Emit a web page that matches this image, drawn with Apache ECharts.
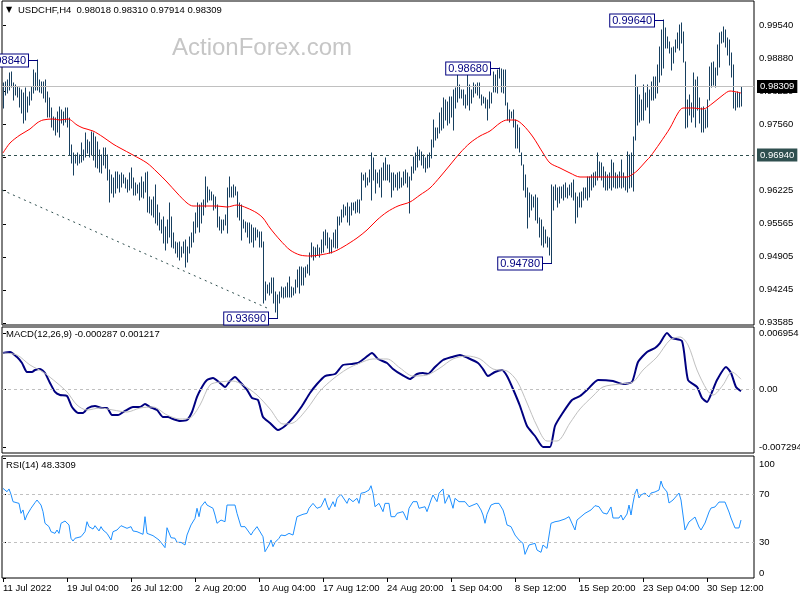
<!DOCTYPE html>
<html><head><meta charset="utf-8">
<script src="https://cdn.jsdelivr.net/npm/echarts@6/dist/echarts.min.js"></script>
<style>html,body{margin:0;padding:0;background:#fff}#c{width:800px;height:600px}</style>
</head><body><div id="c"></div>
<script>
// ---------- DATA ----------
const symbolTitle = 'USDCHF,H4';
const lastBar = ['0.98018', '0.98310', '0.97914', '0.98309'];   // O H L C
const macdTitle = 'MACD(12,26,9) -0.000287 0.001217';
const rsiTitle = 'RSI(14) 48.3309';

// H4 bar highs / lows, bar 0 = 11 Jul 20:00
const highs = [
0.9838,0.9840,0.9844,0.9858,0.9860,0.9838,0.9834,0.9830,0.9828,0.9824,
0.9818,0.9828,0.9810,0.9820,0.9830,0.9864,0.9858,0.9884,0.9844,0.9840,
0.9840,0.9844,0.9820,0.9808,0.9788,0.9770,0.9768,0.9780,0.9790,0.9784,
0.9780,0.9788,0.9788,0.9768,0.9714,0.9698,0.9694,0.9698,0.9694,0.9718,
0.9704,0.9738,0.9724,0.9720,0.9740,0.9738,0.9730,0.9720,0.9704,0.9694,
0.9708,0.9708,0.9694,0.9664,0.9654,0.9648,0.9660,0.9660,0.9654,0.9658,
0.9654,0.9648,0.9644,0.9658,0.9668,0.9648,0.9638,0.9634,0.9638,0.9650,
0.9640,0.9658,0.9660,0.9610,0.9604,0.9610,0.9634,0.9594,0.9578,0.9564,
0.9570,0.9550,0.9564,0.9598,0.9570,0.9538,0.9520,0.9518,0.9520,0.9510,
0.9520,0.9524,0.9510,0.9530,0.9538,0.9560,0.9578,0.9598,0.9594,0.9598,
0.9604,0.9650,0.9630,0.9624,0.9620,0.9614,0.9610,0.9594,0.9570,0.9564,
0.9564,0.9574,0.9628,0.9650,0.9630,0.9634,0.9630,0.9620,0.9598,0.9594,
0.9564,0.9560,0.9558,0.9558,0.9554,0.9548,0.9548,0.9544,0.9540,0.9540,
0.9520,0.9440,0.9434,0.9438,0.9448,0.9448,0.9420,0.9414,0.9420,0.9430,
0.9428,0.9430,0.9438,0.9450,0.9430,0.9428,0.9444,0.9464,0.9470,0.9470,
0.9468,0.9470,0.9474,0.9498,0.9518,0.9510,0.9508,0.9514,0.9508,0.9524,
0.9540,0.9544,0.9538,0.9528,0.9524,0.9538,0.9544,0.9570,0.9570,0.9584,
0.9594,0.9590,0.9598,0.9590,0.9598,0.9598,0.9600,0.9604,0.9604,0.9658,
0.9654,0.9658,0.9648,0.9664,0.9698,0.9688,0.9664,0.9658,0.9664,0.9668,
0.9678,0.9688,0.9674,0.9674,0.9658,0.9658,0.9654,0.9658,0.9660,0.9648,
0.9660,0.9664,0.9658,0.9650,0.9670,0.9690,0.9698,0.9710,0.9704,0.9700,
0.9694,0.9688,0.9694,0.9698,0.9724,0.9764,0.9748,0.9748,0.9778,0.9788,
0.9808,0.9804,0.9800,0.9810,0.9810,0.9824,0.9828,0.9858,0.9834,0.9824,
0.9824,0.9814,0.9860,0.9834,0.9824,0.9838,0.9834,0.9838,0.9838,0.9814,
0.9810,0.9808,0.9804,0.9820,0.9818,0.9860,0.9854,0.9864,0.9868,0.9866,
0.9864,0.9864,0.9798,0.9784,0.9780,0.9784,0.9764,0.9754,0.9748,0.9698,
0.9674,0.9654,0.9628,0.9618,0.9614,0.9610,0.9614,0.9608,0.9568,0.9564,
0.9550,0.9544,0.9530,0.9528,0.9634,0.9630,0.9634,0.9628,0.9630,0.9630,
0.9634,0.9638,0.9628,0.9634,0.9638,0.9644,0.9618,0.9610,0.9618,0.9620,
0.9628,0.9628,0.9650,0.9650,0.9654,0.9658,0.9660,0.9698,0.9680,0.9678,
0.9670,0.9660,0.9654,0.9658,0.9684,0.9678,0.9658,0.9654,0.9660,0.9684,
0.9658,0.9650,0.9700,0.9694,0.9698,0.9730,0.9854,0.9830,0.9814,0.9804,
0.9834,0.9818,0.9834,0.9824,0.9840,0.9850,0.9850,0.9874,0.9910,0.9944,
0.9964,0.9948,0.9930,0.9920,0.9908,0.9910,0.9924,0.9938,0.9954,0.9958,
0.9940,0.9880,0.9804,0.9814,0.9798,0.9858,0.9844,0.9850,0.9808,0.9788,
0.9790,0.9784,0.9804,0.9870,0.9878,0.9880,0.9868,0.9914,0.9938,0.9940,
0.9950,0.9944,0.9928,0.9924,0.9898,0.9874,0.9818,0.9820,0.9818,0.9831
];
const lows = [
0.9788,0.9814,0.9818,0.9824,0.9830,0.9804,0.9814,0.9810,0.9790,0.9778,
0.9758,0.9764,0.9780,0.9794,0.9804,0.9818,0.9824,0.9824,0.9820,0.9818,
0.9808,0.9800,0.9770,0.9770,0.9750,0.9744,0.9734,0.9740,0.9730,0.9758,
0.9754,0.9760,0.9750,0.9694,0.9678,0.9654,0.9678,0.9674,0.9678,0.9680,
0.9684,0.9690,0.9698,0.9690,0.9694,0.9684,0.9670,0.9668,0.9660,0.9658,
0.9674,0.9668,0.9644,0.9600,0.9618,0.9610,0.9618,0.9628,0.9620,0.9630,
0.9638,0.9628,0.9620,0.9624,0.9628,0.9614,0.9614,0.9618,0.9604,0.9610,
0.9608,0.9620,0.9580,0.9578,0.9574,0.9570,0.9558,0.9554,0.9544,0.9538,
0.9518,0.9504,0.9518,0.9530,0.9510,0.9508,0.9498,0.9490,0.9484,0.9490,
0.9498,0.9470,0.9480,0.9498,0.9510,0.9520,0.9538,0.9550,0.9540,0.9558,
0.9574,0.9590,0.9600,0.9604,0.9604,0.9584,0.9588,0.9550,0.9544,0.9538,
0.9544,0.9554,0.9538,0.9610,0.9610,0.9610,0.9614,0.9570,0.9564,0.9524,
0.9548,0.9540,0.9530,0.9518,0.9520,0.9510,0.9524,0.9530,0.9510,0.9510,
0.9398,0.9404,0.9418,0.9414,0.9418,0.9398,0.9380,0.9369,0.9398,0.9410,
0.9408,0.9410,0.9410,0.9410,0.9410,0.9414,0.9418,0.9430,0.9418,0.9434,
0.9434,0.9450,0.9458,0.9454,0.9490,0.9484,0.9490,0.9494,0.9490,0.9498,
0.9500,0.9514,0.9508,0.9498,0.9498,0.9510,0.9508,0.9508,0.9554,0.9560,
0.9570,0.9574,0.9560,0.9554,0.9574,0.9584,0.9578,0.9580,0.9578,0.9604,
0.9644,0.9630,0.9634,0.9640,0.9604,0.9644,0.9618,0.9638,0.9630,0.9610,
0.9644,0.9644,0.9644,0.9640,0.9610,0.9624,0.9630,0.9624,0.9628,0.9630,
0.9634,0.9638,0.9630,0.9578,0.9644,0.9658,0.9664,0.9670,0.9684,0.9674,
0.9668,0.9660,0.9668,0.9670,0.9688,0.9710,0.9724,0.9728,0.9738,0.9744,
0.9748,0.9764,0.9754,0.9758,0.9770,0.9744,0.9788,0.9800,0.9808,0.9808,
0.9794,0.9788,0.9794,0.9784,0.9798,0.9810,0.9818,0.9814,0.9808,0.9794,
0.9798,0.9788,0.9764,0.9788,0.9798,0.9820,0.9820,0.9818,0.9848,0.9820,
0.9818,0.9794,0.9764,0.9760,0.9768,0.9750,0.9708,0.9708,0.9700,0.9674,
0.9624,0.9610,0.9548,0.9570,0.9584,0.9590,0.9564,0.9558,0.9530,0.9514,
0.9510,0.9518,0.9510,0.9494,0.9478,0.9584,0.9604,0.9590,0.9598,0.9608,
0.9604,0.9610,0.9608,0.9614,0.9610,0.9604,0.9558,0.9570,0.9590,0.9590,
0.9604,0.9608,0.9604,0.9610,0.9624,0.9630,0.9634,0.9644,0.9650,0.9644,
0.9630,0.9624,0.9624,0.9628,0.9624,0.9630,0.9628,0.9628,0.9630,0.9628,
0.9630,0.9624,0.9620,0.9628,0.9630,0.9622,0.9724,0.9754,0.9760,0.9764,
0.9764,0.9784,0.9790,0.9758,0.9804,0.9804,0.9808,0.9818,0.9840,0.9854,
0.9868,0.9908,0.9908,0.9898,0.9864,0.9878,0.9900,0.9908,0.9904,0.9918,
0.9880,0.9748,0.9750,0.9774,0.9760,0.9770,0.9750,0.9784,0.9758,0.9740,
0.9740,0.9748,0.9750,0.9804,0.9830,0.9834,0.9830,0.9854,0.9870,0.9918,
0.9920,0.9910,0.9894,0.9874,0.9850,0.9788,0.9784,0.9790,0.9790,0.97914
];

// moving average (red), [bar index, price]
const maLine = [[0,0.9698],[3.5,0.9718],[8.5,0.9734],[13.5,0.9746],[17,0.9758],[20,0.9764],[25,0.9766],[28.5,0.9764],[32.5,0.9766],[37,0.9754],[40,0.9748],[45,0.9742],[50,0.9730],[55,0.9716],[58.5,0.9708],[65,0.9694],[72,0.9678],[77,0.9660],[82,0.9640],[87,0.9618],[92,0.9598],[95,0.9592],[102,0.9592],[107,0.9592],[112,0.9590],[117,0.9594],[122,0.9588],[127,0.9578],[130,0.9568],[133.5,0.9548],[138.5,0.9524],[143.5,0.9504],[148.5,0.9494],[153.5,0.9492],[158.5,0.9494],[165,0.9500],[170,0.9510],[177,0.9528],[182,0.9544],[187,0.9564],[192,0.9580],[197.5,0.9592],[203.5,0.9600],[208.5,0.9614],[213.5,0.9628],[218.5,0.9650],[223.5,0.9674],[228.5,0.9698],[233.5,0.9718],[238.5,0.9732],[243.5,0.9742],[248.5,0.9758],[252,0.9764],[256,0.9764],[260,0.9754],[265,0.9730],[270,0.9698],[273.5,0.9678],[278.5,0.9668],[283.5,0.9658],[288.5,0.9650],[293.5,0.9650],[298.5,0.9650],[303.5,0.9650],[312,0.9650],[315,0.9656],[317.5,0.9664],[322,0.9684],[323.5,0.9690],[328.5,0.9718],[333.5,0.9748],[337.5,0.9778],[340,0.9788],[345,0.9788],[350,0.9786],[355,0.9798],[360,0.9814],[363.5,0.9822],[369,0.9818]];

// dotted trend line
const trendLine = [[-0.5,0.9624],[132,0.9388]];

// horizontal levels
const bidPrice = 0.98309;
const levelPrice = 0.96940;

// high / low annotations
const notes = [[17,0.98840],[137,0.93690],[248,0.98680],[274,0.94780],[330,0.99640]];

// MACD main and signal, [bar index, value]
const macdMain = [[0,0.00447],[3.5,0.00460],[7,0.00397],[9.5,0.00323],[12,0.00211],[14.5,0.00211],[16,0.00236],[18.5,0.00248],[21,0.00199],[23.5,0.00075],[26,-0.00037],[28.5,-0.00075],[32,-0.00087],[34.5,-0.00224],[37.5,-0.00298],[40,-0.00298],[42.5,-0.00236],[46,-0.00211],[49.5,-0.00236],[52,-0.00236],[54.5,-0.00323],[57.5,-0.00323],[61,-0.00273],[65,-0.00224],[68.5,-0.00224],[71,-0.00186],[73.5,-0.00224],[77,-0.00261],[80,-0.00348],[82.5,-0.00348],[85,-0.00373],[88.5,-0.00397],[92,-0.00385],[94.5,-0.00286],[97,-0.00099],[99.5,0.00025],[102,0.00112],[105,0.00137],[108.5,0.00075],[111,0.00025],[113.5,0.00099],[116,0.00149],[118.5,0.00087],[122,-0.00012],[124.5,-0.00112],[127.5,-0.00137],[130,-0.00348],[133.5,-0.00422],[137.5,-0.00509],[141,-0.00460],[145,-0.00360],[149.5,-0.00211],[153.5,-0.00050],[157,0.00062],[161,0.00161],[166,0.00186],[170,0.00298],[174.5,0.00311],[177.5,0.00323],[181,0.00385],[184.5,0.00447],[187.5,0.00373],[192,0.00323],[195,0.00248],[199.5,0.00174],[203.5,0.00124],[207,0.00186],[210,0.00199],[212.5,0.00186],[216,0.00273],[220,0.00360],[224.5,0.00397],[228.5,0.00422],[232.5,0.00385],[237.5,0.00323],[240,0.00248],[242.5,0.00161],[246,0.00211],[249.5,0.00236],[252,0.00161],[255,0],[258.5,-0.00211],[262,-0.00460],[266,-0.00584],[270,-0.00720],[273.5,-0.00720],[276,-0.00460],[279.5,-0.00311],[284.5,-0.00137],[288.5,-0.00087],[292.5,0],[297.5,0.00112],[305,0.00099],[310,0.00062],[314.5,0.00087],[317.5,0.00335],[322,0.00460],[326,0.00509],[328.5,0.00571],[332,0.00695],[334.5,0.00633],[339.5,0.00596],[342.5,0.00112],[347,0.00025],[349.5,-0.00112],[352,-0.00161],[354.5,-0.00037],[357,0.00112],[361.5,0.00273],[364,0.00199],[366.5,0.00025],[369,-0.000287]];
const macdSignal = [[0,0.00447],[7,0.00422],[13.5,0.00298],[20,0.00211],[27,0.00075],[32,-0.00037],[37,-0.00199],[42,-0.00261],[48.5,-0.00236],[55,-0.00261],[62,-0.00286],[68.5,-0.00236],[75,-0.00224],[82,-0.00323],[88.5,-0.00373],[93.5,-0.00360],[98.5,-0.00199],[103.5,0.00050],[108.5,0.00087],[115,0.00099],[120,0.00050],[127,-0.00075],[133.5,-0.00248],[140,-0.00435],[145,-0.00422],[152,-0.00248],[158.5,-0.00025],[165,0.00124],[172,0.00248],[178.5,0.00323],[185,0.00373],[192,0.00373],[198.5,0.00261],[205,0.00161],[212,0.00174],[218.5,0.00261],[225,0.00373],[232,0.00410],[238.5,0.00373],[245,0.00248],[252,0.00224],[257,0.00099],[262,-0.00174],[267,-0.00460],[272,-0.00646],[277,-0.00646],[283.5,-0.00422],[288.5,-0.00248],[295,-0.00087],[300,0.00025],[308.5,0.00062],[315,0.00087],[320,0.00236],[327,0.00397],[333.5,0.00609],[338.5,0.00646],[342.5,0.00547],[347,0.00236],[352,-0.00012],[355,-0.00075],[360,0.00050],[364.5,0.00211],[369,0.001217]];

// RSI(14), [bar index, value]
const rsiLine = [[0,74.7],[2,71.9],[3,74.2],[4,69.7],[5,63.6],[6,65.0],[8,62.2],[9,53.9],[10,56.7],[11,48.3],[12,52.5],[14,58.1],[16,62.8],[17,65.0],[19,60.8],[20,55.3],[21,45.6],[23,42.8],[24,38.6],[26,37.2],[27,40.0],[28,37.2],[29,45.6],[30,44.2],[31,47.5],[32,48.3],[33,44.2],[34,33.1],[35,30.8],[36,33.1],[39,34.4],[41,38.6],[42,46.9],[43,42.8],[44,44.2],[45,40.8],[46,43.6],[48,39.2],[49,42.8],[50,40.0],[52,37.2],[54,31.7],[55,38.6],[57,40.0],[59,43.6],[62,41.4],[64,42.8],[65,39.2],[67,38.6],[70,36.4],[71,51.1],[72,37.2],[75,35.3],[78,31.7],[80,27.5],[81,25.3],[82,41.9],[84,33.6],[86,33.1],[87,29.7],[89,29.7],[91,27.5],[92,35.8],[94,44.2],[96,49.7],[97,58.1],[98,51.1],[99,59.4],[100,60.8],[101,63.6],[102,60.8],[103,59.4],[105,58.1],[106,52.5],[107,45.6],[108,44.7],[109,48.3],[111,46.9],[112,60.8],[114,60.8],[116,60.8],[117,53.9],[118,48.3],[119,42.8],[121,42.8],[122,41.4],[124,35.8],[125,38.6],[127,42.8],[128,41.4],[130,34.4],[131,21.9],[132,24.7],[133,27.5],[134,31.7],[135,26.1],[136,29.7],[138,33.1],[139,35.8],[141,35.3],[143,37.2],[145,35.8],[147,51.1],[148,51.1],[150,53.1],[152,53.9],[153,58.1],[155,62.2],[156,63.1],[157,58.1],[159,59.4],[161,66.4],[162,60.8],[163,56.7],[165,63.6],[166,59.4],[167,66.4],[169,69.7],[170,69.7],[172,62.2],[173,66.4],[175,63.6],[177,66.4],[178,62.2],[179,70.6],[181,71.4],[183,73.3],[184,76.9],[185,70.6],[186,59.4],[188,62.2],[190,55.3],[191,62.2],[193,62.2],[194,51.1],[196,51.1],[197,53.9],[198,52.5],[200,55.3],[202,48.3],[203,58.1],[205,63.6],[207,63.6],[208,58.1],[209,56.7],[211,59.4],[212,55.3],[214,65.0],[215,69.2],[217,63.6],[218,70.6],[219,72.5],[220,74.2],[221,62.2],[223,69.2],[224,67.8],[225,58.1],[226,66.4],[228,63.6],[229,62.2],[231,63.6],[233,59.4],[235,60.8],[237,62.2],[239,56.7],[240,52.5],[241,45.6],[242,53.1],[244,60.8],[246,62.2],[247,60.8],[248,62.2],[250,56.7],[251,51.1],[252,44.2],[254,42.8],[256,35.8],[258,31.7],[260,28.9],[261,19.7],[263,27.5],[264,28.1],[266,28.9],[267,23.3],[269,21.4],[270,27.5],[272,24.7],[273,26.1],[274,45.6],[276,46.9],[278,47.5],[281,49.2],[283,51.1],[284,51.9],[286,40.0],[287,48.3],[288,48.3],[289,51.1],[291,53.9],[292,55.3],[294,56.7],[296,60.3],[298,59.4],[299,56.7],[300,54.2],[302,53.3],[304,59.2],[305,50.0],[308,50.0],[309,52.5],[310,48.3],[312,53.3],[313,60.8],[314,52.5],[315,62.5],[316,70.8],[317,74.2],[318,66.7],[319,69.2],[321,70.8],[323,67.5],[324,70.8],[326,71.7],[328,73.3],[329,80.8],[330,75.8],[332,71.7],[333,62.5],[335,65.0],[338,70.8],[339,65.0],[341,40.0],[342,40.0],[343,46.7],[346,50.8],[348,42.5],[349,40.0],[351,45.8],[353,55.0],[354,58.3],[356,59.2],[358,63.3],[361,63.3],[363,55.0],[364,50.0],[366,41.7],[368,41.7],[369,48.3]];
const rsiLevels = [70, 30];

// axis ticks
const priceTicks = [0.99540,0.98880,0.98220,0.97560,0.96900,0.96225,0.95565,0.94905,0.94245,0.93585];
const macdTicks = [0.006954, 0, -0.007294];
const rsiTicks = [100, 70, 30, 0];
const xTickIdx = [0,32,64,96,128,160,192,224,256,288,320,352];
const xLabels = ['11 Jul 2022','19 Jul 04:00','26 Jul 12:00','2 Aug 20:00','10 Aug 04:00','17 Aug 12:00','24 Aug 20:00','1 Sep 04:00','8 Sep 12:00','15 Sep 20:00','23 Sep 04:00','30 Sep 12:00'];

// ---------- CHART ----------
const FONT = '"Liberation Sans", Arial, sans-serif';
const FS = 9.5;
const BAR = '#173f5f', NAVY = '#000080';
const X_MIN = -0.5, X_MAX = 375.5;
const chart = echarts.init(document.getElementById('c'), null, {renderer: 'canvas'});

function hiddenX(g) {
  return {type: 'value', gridIndex: g, min: X_MIN, max: X_MAX, show: false, splitLine: {show: false}};
}
function yAx(g, min, max, ticks, fmt, extra) {
  return Object.assign({
    type: 'value', gridIndex: g, position: 'right', min: min, max: max,
    axisLine: {show: false}, splitLine: {show: false},
    axisTick: {show: true, customValues: ticks, length: 3, lineStyle: {color: '#000'}},
    axisLabel: {customValues: ticks, formatter: fmt, color: '#000', fontSize: FS, fontFamily: FONT, margin: 5}
  }, extra || {});
}
const gridBase = {left: 2, right: 46, show: true, borderColor: '#000', borderWidth: 1, backgroundColor: 'transparent', containLabel: false, outerBoundsMode: 'none'};

const option = {
  animation: false,
  backgroundColor: '#fff',
  grid: [
    Object.assign({top: 1, height: 324}, gridBase),
    Object.assign({top: 327, height: 126}, gridBase),
    Object.assign({top: 456, height: 122}, gridBase)
  ],
  xAxis: [
    hiddenX(0), hiddenX(1),
    {type: 'value', gridIndex: 2, min: X_MIN, max: X_MAX,
     axisLine: {show: false}, splitLine: {show: false},
     axisTick: {show: true, customValues: xTickIdx, length: 4, lineStyle: {color: '#000'}},
     axisLabel: {customValues: xTickIdx, formatter: v => xLabels[xTickIdx.indexOf(v)] || '', align: 'left', margin: 5,
                 color: '#000', fontSize: FS, fontFamily: FONT}}
  ],
  yAxis: [
    yAx(0, 0.9354, 1.0002, priceTicks, v => v.toFixed(5)),
    yAx(1, -0.00795, 0.0077, macdTicks, v => (v === 0 ? '0.00' : v.toFixed(6))),
    yAx(2, 0, 101.67, rsiTicks, v => String(v), {
      axisLabel: {customValues: rsiTicks, formatter: v => (v === 100 ? '{t|100}' : v === 0 ? '{b|0}' : String(v)),
        color: '#000', fontSize: FS, fontFamily: FONT, margin: 5,
        rich: {t: {padding: [12, 0, 0, 0], fontSize: FS, fontFamily: FONT, color: '#000'},
               b: {padding: [0, 0, 10, 0], fontSize: FS, fontFamily: FONT, color: '#000'}}}
    })
  ],
  graphic: [
    {type: 'text', left: 172, top: 36, z: 0, silent: true, style: {text: 'ActionForex.com', font: '24px ' + FONT, fill: '#c6c6c6'}},
    {type: 'text', left: 6, top: 6, silent: true, style: {text: '▼', font: '8px "DejaVu Sans", sans-serif', fill: '#000'}},
    {type: 'text', left: 18, top: 5, silent: true, style: {text: symbolTitle + '  ' + lastBar.join(' '), font: FS + 'px ' + FONT, fill: '#000'}},
    {type: 'text', left: 6, top: 329, silent: true, style: {text: macdTitle, font: FS + 'px ' + FONT, fill: '#000'}},
    {type: 'text', left: 6, top: 460, silent: true, style: {text: rsiTitle, font: FS + 'px ' + FONT, fill: '#000'}}
  ],
  series: [
    { // trend line
      type: 'line', xAxisIndex: 0, yAxisIndex: 0, data: trendLine, symbol: 'none', silent: true, z: 2,
      lineStyle: {color: '#2f4f4f', width: 1, type: [2, 4]}
    },
    { // price bars
      type: 'custom', xAxisIndex: 0, yAxisIndex: 0, silent: true, z: 3, clip: true,
      data: highs.map((h, i) => [i, lows[i], h]),
      encode: {x: 0, y: [1, 2]},
      renderItem: function (params, api) {
        const lo = api.coord([api.value(0), api.value(1)]);
        const hi = api.coord([api.value(0), api.value(2)]);
        const x = Math.round(lo[0]) + 0.5;
        return {type: 'line', shape: {x1: x, y1: Math.round(lo[1]) + 0.5, x2: x, y2: Math.round(hi[1]) - 0.5},
                style: {stroke: BAR, lineWidth: 1}};
      }
    },
    { // moving average + horizontal lines
      type: 'line', xAxisIndex: 0, yAxisIndex: 0, data: maLine, symbol: 'none', smooth: 0.3, silent: true, z: 4,
      lineStyle: {color: '#ff0000', width: 1},
      markLine: {
        silent: true, symbol: ['none', 'none'], animation: false, precision: 5,
        data: [
          {yAxis: bidPrice, lineStyle: {color: '#c0c0c0', type: 'solid', width: 1},
           label: {show: true, position: 'end', formatter: bidPrice.toFixed(5), color: '#fff', backgroundColor: '#000',
                   padding: [2, 3, 1, 3], fontSize: FS, fontFamily: FONT, distance: 3}},
          {yAxis: levelPrice, lineStyle: {color: '#2f4f4f', type: [3, 3], width: 1},
           label: {show: true, position: 'end', formatter: levelPrice.toFixed(5), color: '#fff', backgroundColor: '#2f4f4f',
                   padding: [2, 3, 1, 3], fontSize: FS, fontFamily: FONT, distance: 3}}
        ]
      }
    },
    { // annotations
      type: 'custom', xAxisIndex: 0, yAxisIndex: 0, silent: true, z: 6, clip: false,
      data: notes, encode: {x: 0, y: 1},
      renderItem: function (params, api) {
        const v = api.value(1);
        const pt = api.coord([api.value(0), v]);
        const y = Math.round(pt[1]) + 0.5;
        const x = Math.round(pt[0]);
        return {type: 'group', children: [
          {type: 'line', shape: {x1: x - 9, y1: y, x2: x + 1, y2: y}, style: {stroke: NAVY, lineWidth: 1}},
          {type: 'text', style: {text: v.toFixed(5), x: x - 9, y: y, align: 'right', verticalAlign: 'middle',
            fill: NAVY, font: '11px ' + FONT, backgroundColor: '#fff', borderColor: NAVY, borderWidth: 1, padding: [1, 2, 0, 2]}}
        ]};
      }
    },
    { // MACD main
      type: 'line', xAxisIndex: 1, yAxisIndex: 1, data: macdMain, symbol: 'none', smooth: 0.2, silent: true, z: 3,
      lineStyle: {color: NAVY, width: 2}
    },
    { // MACD signal
      type: 'line', xAxisIndex: 1, yAxisIndex: 1, data: macdSignal, symbol: 'none', smooth: 0.3, silent: true, z: 4,
      lineStyle: {color: '#c0c0c0', width: 1},
      markLine: {silent: true, symbol: ['none', 'none'], label: {show: false}, precision: 6,
        lineStyle: {color: '#c0c0c0', type: [3, 3], width: 1}, data: [{yAxis: 0}]}
    },
    { // RSI
      type: 'line', xAxisIndex: 2, yAxisIndex: 2, data: rsiLine, symbol: 'none', silent: true, z: 3,
      lineStyle: {color: '#1e90ff', width: 1},
      markLine: {silent: true, symbol: ['none', 'none'], label: {show: false},
        lineStyle: {color: '#c0c0c0', type: [3, 3], width: 1}, data: rsiLevels.map(l => ({yAxis: l}))}
    }
  ]
};
chart.setOption(option);
</script>
</body></html>
